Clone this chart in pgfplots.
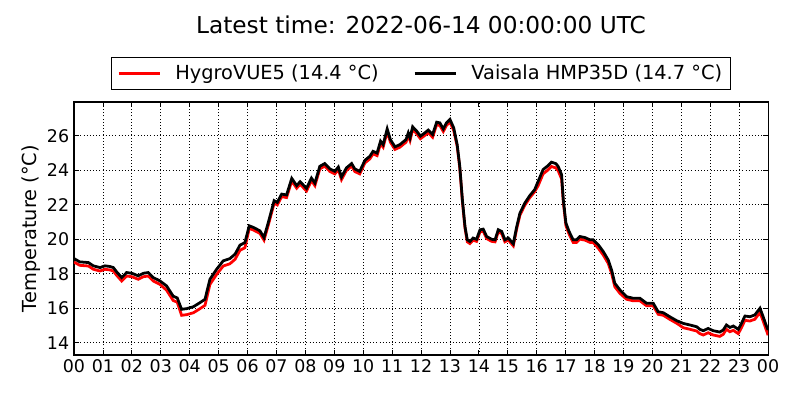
\documentclass[border=0pt]{standalone}
\usepackage{fontspec}
\setmainfont{DejaVu Sans}
\usepackage{pgfplots}
\pgfplotsset{compat=1.18}
\begin{document}
\begin{tikzpicture}
\path[use as bounding box] (-53.48pt,-32.52pt) rectangle (524.68pt,256.56pt);
\begin{axis}[
  at={(0,0)}, anchor=south west,
  width=501.6pt, height=182.85pt, scale only axis,
  xmin=0, xmax=24, ymin=13.29, ymax=27.96,
  xtick={0,1,...,24},
  xticklabels={00,01,02,03,04,05,06,07,08,09,10,11,12,13,14,15,16,17,18,19,20,21,22,23,00},
  ytick={14,16,...,26},
  /pgf/number format/assume math mode=true,
  ticklabel style={font=\fontsize{12.6}{14}\selectfont},
  tick align=inside,
  major tick length=3.5pt,
  tick style={black, line width=0.6pt},
  axis line style={line width=0.8pt},
  grid=major,
  major grid style={black, line width=0.5pt, dash pattern=on 0.7pt off 1.6pt},
  title={Latest time: 2022-06-14 00:00:00 UTC},
  title style={font=\fontsize{16.8}{19}\selectfont, at={(0.5,1)}, anchor=base, yshift=43.2pt},
  ylabel={Temperature (°C)},
  ylabel style={font=\fontsize{14}{17}\selectfont, at={(axis description cs:0,0.5)}, anchor=center, yshift=31pt},
  legend columns=2,
  legend style={at={(0.5,1)}, anchor=south, yshift=8.7pt, draw=black, line width=0.8pt,
    font=\fontsize{14}{17}\selectfont, inner xsep=4pt, inner ysep=3.5pt,
    /tikz/every odd column/.append style={column sep=8pt},
    /tikz/every even column/.append style={column sep=23pt}},
  legend image code/.code={\draw[#1] (0pt,0pt) -- (30pt,0pt);},
]
\addplot[red, line width=2pt] coordinates {
(0.00,18.68) (0.20,18.49) (0.50,18.45) (0.67,18.26) (0.90,18.16) (1.07,18.26) (1.25,18.22) (1.36,18.16)
(1.48,17.90) (1.65,17.58) (1.82,17.87) (2.00,17.83) (2.22,17.68) (2.40,17.83) (2.57,17.87) (2.74,17.58)
(2.97,17.39) (3.20,17.05) (3.43,16.45) (3.57,16.35) (3.72,15.59) (3.90,15.63) (4.13,15.74) (4.36,15.98)
(4.53,16.17) (4.70,17.38) (4.93,17.96) (5.16,18.45) (5.39,18.58) (5.57,18.84) (5.74,19.36) (5.91,19.51)
(6.06,20.63) (6.20,20.54) (6.43,20.34) (6.57,19.95) (6.72,20.83) (6.92,22.09) (7.03,21.99) (7.18,22.47)
(7.35,22.42) (7.53,23.38) (7.70,22.96) (7.82,23.19) (8.04,22.80) (8.21,23.40) (8.33,23.11) (8.50,24.08)
(8.67,24.24) (8.85,23.93) (9.02,23.79) (9.14,24.04) (9.25,23.46) (9.42,23.99) (9.60,24.24) (9.71,23.93)
(9.88,23.79) (10.06,24.43) (10.23,24.66) (10.34,24.95) (10.48,24.85) (10.60,25.54) (10.69,25.34) (10.83,26.25)
(10.94,25.63) (11.10,25.21) (11.27,25.34) (11.48,25.63) (11.56,26.02) (11.62,25.73) (11.71,26.37) (11.85,26.12)
(11.98,25.83) (12.13,26.02) (12.25,26.18) (12.40,25.92) (12.54,26.64) (12.65,26.60) (12.77,26.25) (12.88,26.60)
(13.00,26.80) (13.13,26.31) (13.25,25.39) (13.34,24.13) (13.43,22.19) (13.52,20.64) (13.60,19.85) (13.69,19.75)
(13.80,19.95) (13.92,19.88) (14.04,20.43) (14.15,20.47) (14.27,20.04) (14.44,19.88) (14.56,19.85) (14.67,20.43)
(14.79,20.33) (14.90,19.85) (15.02,19.95) (15.19,19.62) (15.31,20.62) (15.42,21.40) (15.59,21.98) (15.76,22.41)
(15.93,22.76) (16.05,23.11) (16.22,23.79) (16.39,24.02) (16.51,24.22) (16.66,24.14) (16.74,23.98) (16.86,23.50)
(16.92,22.14) (17.01,20.79) (17.12,20.30) (17.26,19.82) (17.38,19.82) (17.49,20.01) (17.67,19.95) (17.84,19.82)
(17.95,19.82) (18.13,19.48) (18.30,19.09) (18.47,18.61) (18.59,18.02) (18.70,17.25) (18.88,16.86) (19.11,16.52)
(19.34,16.43) (19.57,16.43) (19.80,16.14) (20.03,16.14) (20.20,15.65) (20.38,15.59) (20.60,15.36) (20.84,15.13)
(21.07,14.87) (21.30,14.78) (21.53,14.68) (21.64,14.53) (21.76,14.45) (21.93,14.58) (22.10,14.45) (22.33,14.37)
(22.45,14.49) (22.56,14.78) (22.68,14.64) (22.80,14.72) (22.97,14.53) (23.08,14.87) (23.20,15.30) (23.37,15.26)
(23.54,15.36) (23.72,15.75) (23.83,15.26) (23.93,14.78) (24.00,14.44)
};
\addlegendentry{HygroVUE5 (14.4 °C)}
\addplot[black, line width=2pt] coordinates {
(0.00,18.88) (0.20,18.69) (0.50,18.65) (0.67,18.46) (0.90,18.36) (1.07,18.46) (1.25,18.42) (1.36,18.36)
(1.48,18.10) (1.65,17.78) (1.82,18.07) (2.00,18.03) (2.22,17.88) (2.40,18.03) (2.57,18.07) (2.74,17.78)
(2.97,17.59) (3.20,17.30) (3.43,16.70) (3.57,16.60) (3.72,15.94) (3.90,15.98) (4.13,16.09) (4.36,16.33)
(4.53,16.52) (4.70,17.68) (4.93,18.26) (5.16,18.75) (5.39,18.88) (5.57,19.14) (5.74,19.66) (5.91,19.81)
(6.06,20.78) (6.20,20.69) (6.43,20.49) (6.57,20.10) (6.72,20.98) (6.92,22.24) (7.03,22.14) (7.18,22.62)
(7.35,22.57) (7.53,23.53) (7.70,23.11) (7.82,23.34) (8.04,22.95) (8.21,23.55) (8.33,23.26) (8.50,24.23)
(8.67,24.39) (8.85,24.08) (9.02,23.94) (9.14,24.19) (9.25,23.61) (9.42,24.14) (9.60,24.39) (9.71,24.08)
(9.88,23.94) (10.06,24.58) (10.23,24.81) (10.34,25.10) (10.48,25.00) (10.60,25.69) (10.69,25.49) (10.83,26.40)
(10.94,25.78) (11.10,25.36) (11.27,25.49) (11.48,25.78) (11.56,26.17) (11.62,25.88) (11.71,26.52) (11.85,26.27)
(11.98,25.98) (12.13,26.17) (12.25,26.33) (12.40,26.07) (12.54,26.79) (12.65,26.75) (12.77,26.40) (12.88,26.75)
(13.00,26.95) (13.13,26.46) (13.25,25.49) (13.34,24.23) (13.43,22.29) (13.52,20.74) (13.60,19.97) (13.69,19.87)
(13.80,20.07) (13.92,20.00) (14.04,20.55) (14.15,20.59) (14.27,20.16) (14.44,20.00) (14.56,19.97) (14.67,20.55)
(14.79,20.45) (14.90,19.97) (15.02,20.07) (15.19,19.74) (15.31,20.74) (15.42,21.52) (15.59,22.10) (15.76,22.53)
(15.93,22.88) (16.05,23.36) (16.22,24.04) (16.39,24.27) (16.51,24.47) (16.66,24.39) (16.74,24.23) (16.86,23.75)
(16.92,22.29) (17.01,20.94) (17.12,20.45) (17.26,19.97) (17.38,19.97) (17.49,20.16) (17.67,20.10) (17.84,19.97)
(17.95,19.97) (18.13,19.68) (18.30,19.29) (18.47,18.81) (18.59,18.22) (18.70,17.45) (18.88,17.06) (19.11,16.67)
(19.34,16.58) (19.57,16.58) (19.80,16.29) (20.03,16.29) (20.20,15.80) (20.38,15.74) (20.60,15.51) (20.84,15.28)
(21.07,15.12) (21.30,15.03) (21.53,14.93) (21.64,14.78) (21.76,14.70) (21.93,14.83) (22.10,14.70) (22.33,14.62)
(22.45,14.74) (22.56,15.03) (22.68,14.89) (22.80,14.97) (22.97,14.78) (23.08,15.12) (23.20,15.55) (23.37,15.51)
(23.54,15.61) (23.72,16.00) (23.83,15.51) (23.93,15.03) (24.00,14.74)
};
\addlegendentry{Vaisala HMP35D (14.7 °C)}
\end{axis}
\end{tikzpicture}
\end{document}
